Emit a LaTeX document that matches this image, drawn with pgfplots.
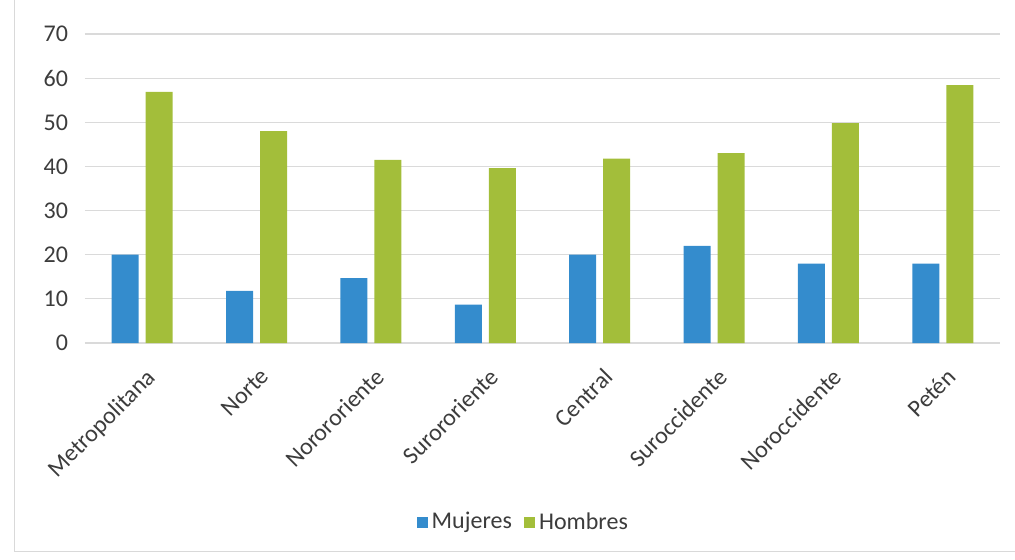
\documentclass[border=0pt]{standalone}
\usepackage{fontspec}
\setmainfont{Carlito}
\usepackage{pgfplots}
\pgfplotsset{compat=1.18}
\definecolor{muj}{RGB}{52,140,205}
\definecolor{hom}{RGB}{163,190,58}
\definecolor{grd}{RGB}{218,218,218}
\definecolor{txt}{RGB}{60,60,60}

\begin{document}
\begin{tikzpicture}
\begin{axis}[
  at={(0,0)}, anchor=south west,
  scale only axis, width=457.5pt, height=154.5pt,
  ybar=3.5pt, bar width=13.5pt,
  xmin=-0.5, xmax=7.5, ymin=0, ymax=70,
  xtick={0,...,7},
  xticklabels={Metropolitana,Norte,Norororiente,Surororiente,Central,Suroccidente,Noroccidente,Petén},
  x tick label style={rotate=45, anchor=north east, xshift=-4pt, yshift=-6pt, font=\fontsize{12}{14}\selectfont, text=txt},
  ytick={0,10,...,70},
  y tick label style={font=\fontsize{12}{14}\selectfont, text=txt, xshift=-5pt},
  ymajorgrids, major grid style={grd, line width=0.6pt},
  axis line style={draw=none},
  major tick length=0pt,
  /pgf/number format/assume math mode=true,
  legend style={at={(0.48,-0.58)}, anchor=center, draw=none, fill=none,
    legend columns=2, font=\fontsize{12}{14}\selectfont, text=txt,
    /tikz/every even column/.append style={column sep=4pt}},
  legend image code/.code={\fill[#1] (0pt,-2.8pt) rectangle (5.6pt,2.8pt);},
]
\addplot[fill=muj, draw=none] coordinates {(0,20) (1,11.8) (2,14.7) (3,8.7) (4,20) (5,22) (6,18) (7,18)};
\addplot[fill=hom, draw=none] coordinates {(0,56.9) (1,48) (2,41.5) (3,39.6) (4,41.8) (5,43) (6,49.8) (7,58.4)};
\legend{Mujeres,Hombres}
\end{axis}
\draw[gray!30, line width=0.5pt] (-35pt,180pt) -- (-35pt,-104pt) -- (470pt,-104pt);
\pgfresetboundingbox
\path[use as bounding box] (-42.5pt,-108pt) rectangle (465pt,171.5pt);
\end{tikzpicture}
\end{document}
